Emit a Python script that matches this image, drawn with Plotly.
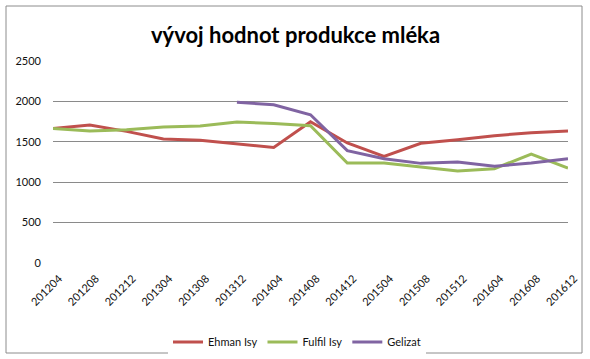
import plotly.graph_objects as go

categories = ["201204", "201208", "201212", "201304", "201308", "201312", "201404",
              "201408", "201412", "201504", "201508", "201512", "201604", "201608", "201612"]
ehman_isy = [1666, 1708, 1629, 1535, 1518, 1476, 1431, 1749, 1485, 1320, 1481, 1526, 1576, 1613, 1633]
fulfil_isy = [1666, 1633, 1650, 1683, 1695, 1745, 1728, 1699, 1238, 1238, 1188, 1139, 1167, 1349, 1176]
gelizat = [None, None, None, None, None, 1988, 1959, 1835, 1390, 1291, 1233, 1250, 1196, 1238, 1291]
y_ticks = [0, 500, 1000, 1500, 2000, 2500]

FONT = "Lato, Open Sans, sans-serif"

fig = go.Figure()
for name, vals, col in [("Ehman Isy", ehman_isy, "#C0504D"),
                        ("Fulfil Isy", fulfil_isy, "#9BBB59"),
                        ("Gelizat", gelizat, "#8064A2")]:
    fig.add_trace(go.Scatter(x=categories, y=vals, name=name, mode="lines",
                             line=dict(color=col, width=3), connectgaps=False))

W, H = 590, 359
L, R, T, B = 53, 22, 61, 96
pw, ph = W - L - R, H - T - B

def px_x(p):
    return (p - L) / pw

def px_y(p):
    return (H - B - p) / ph

fig.add_shape(type="rect", xref="paper", yref="paper",
              x0=px_x(6), x1=px_x(582), y0=px_y(353), y1=px_y(6),
              line=dict(color="#8c8c8c", width=1), fillcolor="rgba(0,0,0,0)", layer="below")

fig.update_layout(
    width=W, height=H,
    margin=dict(l=L, r=R, t=T, b=B, autoexpand=False),
    paper_bgcolor="white", plot_bgcolor="white",
    font=dict(family=FONT, size=11, color="#111111"),
    title=dict(text="<b>vývoj hodnot produkce mléka</b>", x=295.5 / W,
               xanchor="center", y=1 - 35 / H, yanchor="middle", automargin=False,
               font=dict(family=FONT, size=22, color="black")),
    showlegend=True,
    legend=dict(orientation="h", x=px_x(297), xanchor="center", y=px_y(342), yanchor="middle",
                font=dict(family=FONT, size=11, color="#111111"), itemwidth=30,
                tracegroupgap=0),
    xaxis=dict(type="category", tickangle=-45, showgrid=False, showline=False,
               ticks="", zeroline=False, tickfont=dict(size=11), automargin=False,
               ticklabelstandoff=6, ticklabelshift=6),
    yaxis=dict(range=[0, 2500], tickvals=y_ticks, showgrid=True, gridcolor="#8a8a8a",
               gridwidth=1, zeroline=False, showline=False, ticks="", automargin=False,
               ticklabelstandoff=11, tickfont=dict(size=11)),
)

fig.write_html("out.html", config={"displayModeBar": False},
               post_script="document.body.style.margin='0';document.body.style.padding='0';")
